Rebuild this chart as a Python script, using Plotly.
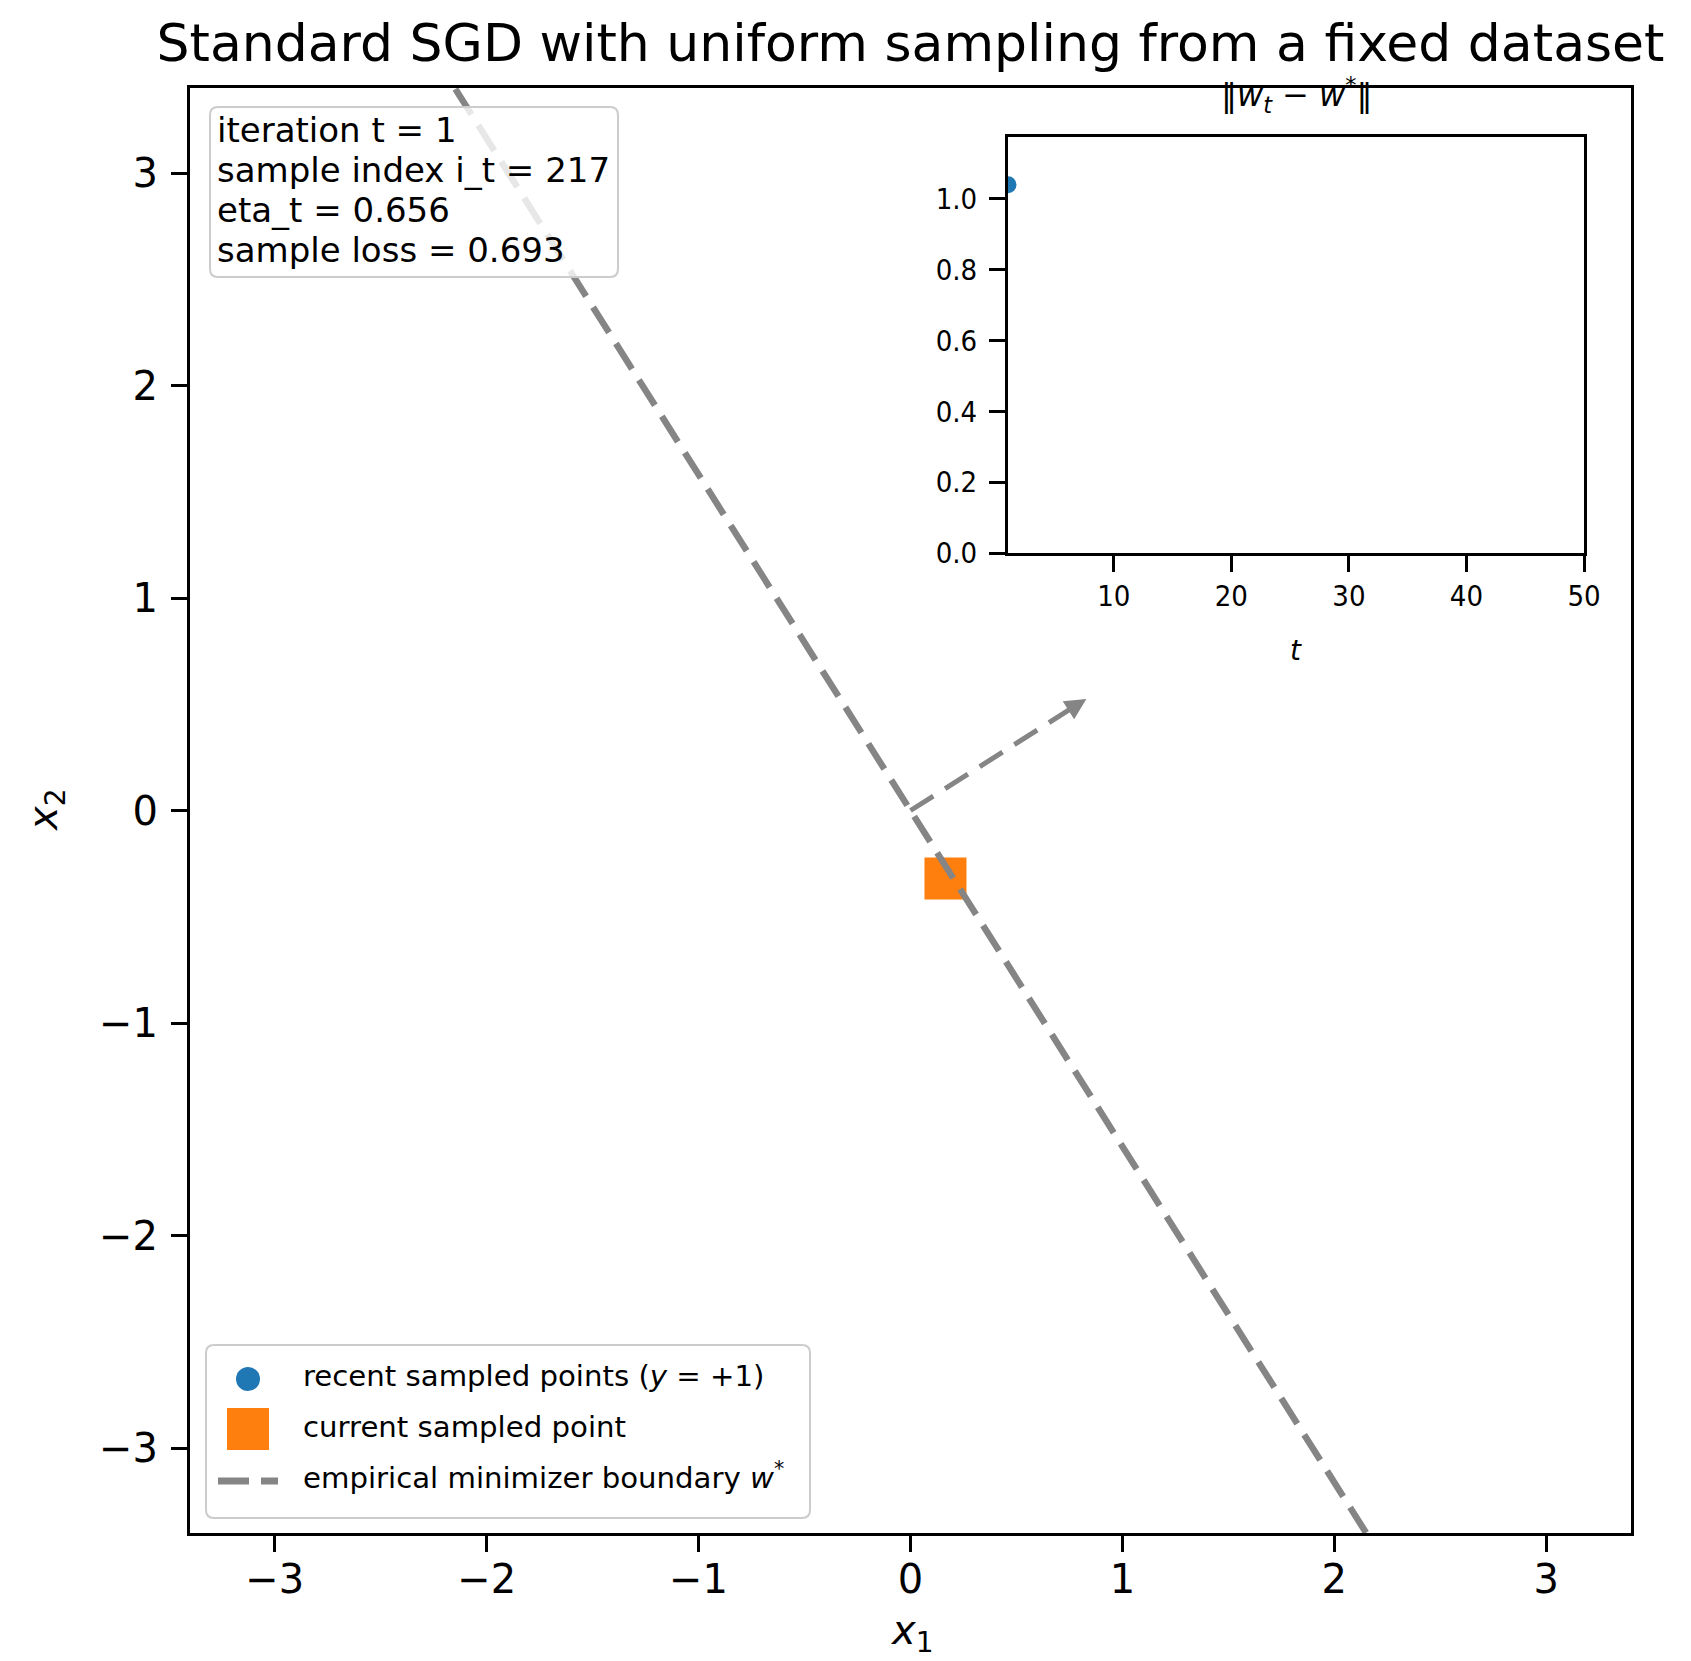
import numpy as np
import plotly.graph_objects as go

# ---------------- data ----------------
w_star = [0.83, 0.525]                 # empirical minimizer direction (arrow tip)
recent_x = [0.165]                      # recent sampled points (y=+1)
recent_y = [-0.32]
current_x = [0.165]                     # current sampled point
current_y = [-0.32]
dist_t = [1]                            # inset: iteration
dist_vals = [1.04]                      # inset: ||w_t - w*||
x_ticks = [-3, -2, -1, 0, 1, 2, 3]
y_ticks = [-3, -2, -1, 0, 1, 2, 3]
inset_x_ticks = [10, 20, 30, 40, 50]
inset_y_ticks = [0.0, 0.2, 0.4, 0.6, 0.8, 1.0]
info_lines = ["iteration t = 1", "sample index i_t = 217", "eta_t = 0.656", "sample loss = 0.693"]
legend_labels = ["recent sampled points (<i>y</i> = +1)", "current sampled point",
                 "empirical minimizer boundary <i>w</i><sup>*</sup>"]
x_range = [-3.4, 3.4]
y_range = [-3.4, 3.4]
inset_x_range = [1, 50]
inset_y_range = [0, 1.175]

# ---------------- layout geometry (page pixels) ----------------
OFF = 8                       # default body margin of the html page
PAGE_W, PAGE_H = 1691, 1661
W, H = PAGE_W - OFF, PAGE_H - OFF
L, R, T, B = 190, 1631, 88, 1533   # plot area in page pixels
PW, PH = R - L, B - T
FONT = "DejaVu Sans"
BLUE = "#1f77b4"
ORANGE = "#ff7f0e"
GRAY = "#858585"


def px(x):
    return (x - L) / PW


def py(y):
    return (B - y) / PH


def rrect(x0, y0, x1, y1, r):
    rx, ry = r / PW, r / PH
    X0, X1, Y0, Y1 = px(x0), px(x1), py(y0), py(y1)
    return (f"M{X0+rx},{Y0} L{X1-rx},{Y0} Q{X1},{Y0} {X1},{Y0-ry} "
            f"L{X1},{Y1+ry} Q{X1},{Y1} {X1-rx},{Y1} L{X0+rx},{Y1} "
            f"Q{X0},{Y1} {X0},{Y1+ry} L{X0},{Y0-ry} Q{X0},{Y0} {X0+rx},{Y0} Z")


fig = go.Figure()

# recent sampled points (hidden under current point)
fig.add_trace(go.Scatter(x=recent_x, y=recent_y, mode="markers",
                         marker=dict(color=BLUE, size=24), showlegend=False,
                         xaxis="x", yaxis="y"))
# current sampled point
fig.add_trace(go.Scatter(x=current_x, y=current_y, mode="markers",
                         marker=dict(color=ORANGE, size=42, symbol="square"),
                         showlegend=False, xaxis="x", yaxis="y"))
# boundary w*.x = 0
bx2 = np.array(y_range) * 1.05
bx1 = -w_star[1] / w_star[0] * bx2
fig.add_trace(go.Scatter(x=bx1, y=bx2, mode="lines",
                         line=dict(color=GRAY, width=6.5, dash="30px,13px"),
                         showlegend=False, xaxis="x", yaxis="y"))
# w* arrow (dashed shaft)
frac = 0.93
fig.add_trace(go.Scatter(x=[0, w_star[0] * frac], y=[0, w_star[1] * frac], mode="lines",
                         line=dict(color=GRAY, width=5, dash="27px,14px"),
                         showlegend=False, xaxis="x", yaxis="y"))
fig.add_annotation(x=w_star[0], y=w_star[1], ax=w_star[0] * 0.9, ay=w_star[1] * 0.9,
                   xref="x", yref="y", axref="x", ayref="y", text="", showarrow=True,
                   arrowhead=2, arrowsize=0.85, arrowwidth=5, arrowcolor=GRAY)

# inset
fig.add_trace(go.Scatter(x=dist_t, y=dist_vals, mode="lines+markers",
                         marker=dict(color=BLUE, size=17), line=dict(color=BLUE, width=3),
                         showlegend=False, xaxis="x2", yaxis="y2"))

axis_common = dict(showgrid=False, zeroline=False, showline=True, mirror=True,
                   linecolor="black", linewidth=3, ticks="outside", tickcolor="black",
                   tickwidth=3, ticklen=16)
INSET_FONT = "DejaVu Sans Condensed, DejaVu Sans"

fig.update_layout(
    width=W, height=H, autosize=False,
    margin=dict(l=L - OFF, r=W - (R - OFF), t=T - OFF, b=H - (B - OFF)),
    paper_bgcolor="white", plot_bgcolor="white",
    font=dict(family=FONT, color="black"),
    showlegend=False,
    title=dict(text="Standard SGD with uniform sampling from a fixed dataset",
               font=dict(size=52, family=FONT, color="black"),
               x=0.5, xref="paper", xanchor="center",
               y=1 - (43 - OFF) / H, yref="container", yanchor="middle"),
    xaxis=dict(range=x_range, tickvals=x_ticks, tickfont=dict(size=40),
               ticklabelstandoff=-7, **axis_common),
    yaxis=dict(range=y_range, tickvals=y_ticks, tickfont=dict(size=40),
               ticklabelstandoff=5, **axis_common),
    xaxis2=dict(domain=[px(1008), px(1584)], anchor="y2", range=inset_x_range,
                tickvals=inset_x_ticks, tickfont=dict(size=29, family=INSET_FONT),
                ticklabelstandoff=-1, **axis_common),
    yaxis2=dict(domain=[py(553), py(137)], anchor="x2", range=inset_y_range,
                tickvals=inset_y_ticks, tickformat=".1f",
                tickfont=dict(size=29, family=INSET_FONT),
                ticklabelstandoff=6, **axis_common),
)

shapes = []
ann = []
# info box
shapes.append(dict(type="path", path=rrect(210, 107, 618, 277, 8), xref="paper", yref="paper",
                   fillcolor="rgba(255,255,255,0.8)", line=dict(color="#cccccc", width=2), layer="above"))
for i, s in enumerate(info_lines):
    ann.append(dict(x=px(215), y=py(130 + 40 * i), xref="paper", yref="paper", text=s,
                    showarrow=False, xanchor="left", yanchor="middle",
                    font=dict(size=34, family=FONT, color="black")))

# legend box
shapes.append(dict(type="path", path=rrect(206, 1345, 810, 1518, 8), xref="paper", yref="paper",
                   fillcolor="rgba(255,255,255,0.8)", line=dict(color="#cccccc", width=2), layer="above"))
shapes.append(dict(type="circle", xref="paper", yref="paper", x0=px(236), x1=px(260),
                   y0=py(1391), y1=py(1367), fillcolor=BLUE, line=dict(width=0), layer="above"))
shapes.append(dict(type="rect", xref="paper", yref="paper", x0=px(227), x1=px(269),
                   y0=py(1450), y1=py(1408), fillcolor=ORANGE, line=dict(width=0), layer="above"))
shapes.append(dict(type="line", xref="paper", yref="paper", x0=px(218), x1=px(278),
                   y0=py(1481), y1=py(1481), line=dict(color=GRAY, width=7, dash="31px,12px"),
                   layer="above"))
for i, s in enumerate(legend_labels):
    ann.append(dict(x=px(301), y=py([1376, 1427, 1476][i]), xref="paper", yref="paper", text=s,
                    showarrow=False, xanchor="left", yanchor="middle",
                    font=dict(size=29.2, family=FONT, color="black")))

# axis labels
ann.append(dict(x=px(912), y=py(1633), xref="paper", yref="paper", text="<i>x</i><sub>1</sub>",
                showarrow=False, xanchor="center", yanchor="middle", font=dict(size=40, family=FONT)))
ann.append(dict(x=px(46), y=py(810), xref="paper", yref="paper", text="<i>x</i><sub>2</sub>",
                showarrow=False, xanchor="center", yanchor="middle", textangle=-90,
                font=dict(size=40, family=FONT)))
# inset title and label
ann.append(dict(x=px(1296), y=py(95), xref="paper", yref="paper",
                text="‖<i>w</i><sub><i>t</i></sub> − <i>w</i><sup>*</sup>‖",
                showarrow=False, xanchor="center", yanchor="middle", font=dict(size=32, family=FONT)))
ann.append(dict(x=px(1296), y=py(650), xref="paper", yref="paper", text="<i>t</i>",
                showarrow=False, xanchor="center", yanchor="middle", font=dict(size=28, family=FONT)))

fig.update_layout(shapes=shapes)
for a in ann:
    fig.add_annotation(**a)

fig.write_html("out.html")
